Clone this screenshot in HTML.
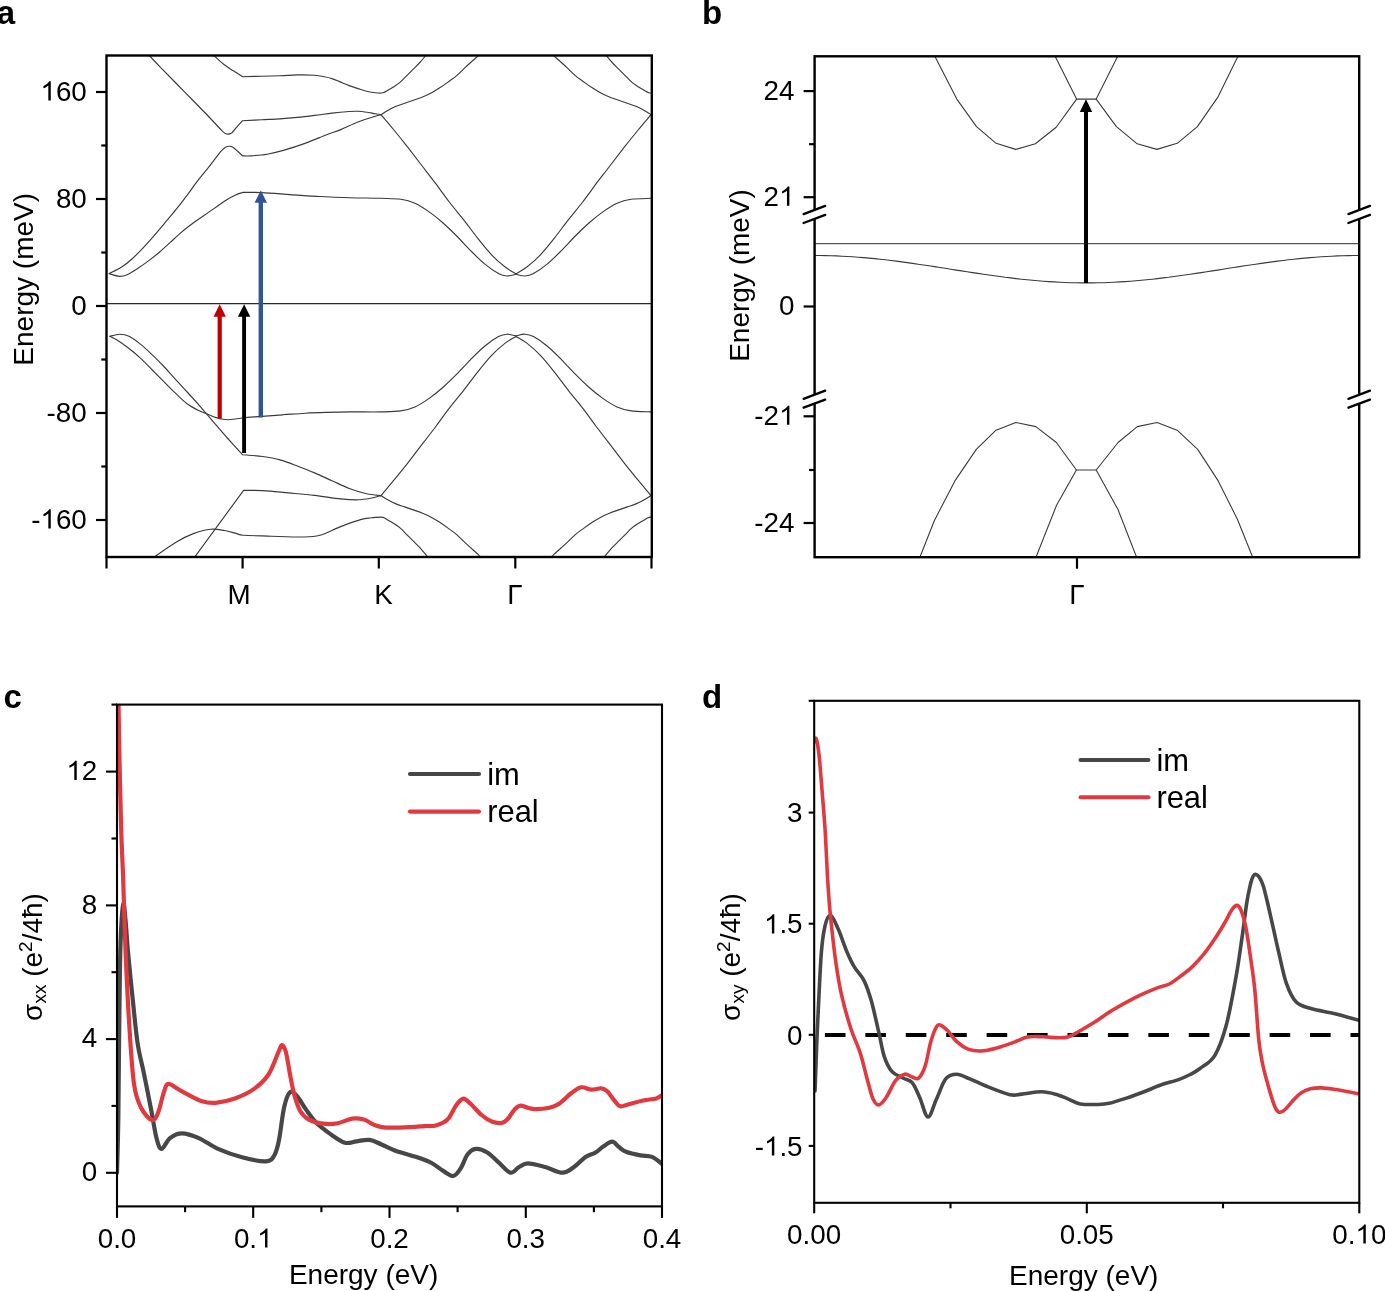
<!DOCTYPE html><html><head><meta charset="utf-8"><title>Figure</title><style>html,body{margin:0;padding:0;background:#fff;overflow:hidden;}svg{display:block;will-change:transform;}text{font-family:"Liberation Sans",sans-serif;fill:#000;}</style></head><body>
<svg width="1385" height="1291" viewBox="0 0 1385 1291">
<rect x="0" y="0" width="1385" height="1291" fill="#fff"/>
<text x="-3.3" y="23.5" font-size="33" text-anchor="start" font-weight="bold">a</text>
<text x="702" y="23.5" font-size="33" text-anchor="start" font-weight="bold">b</text>
<text x="3.5" y="708.3" font-size="33" text-anchor="start" font-weight="bold">c</text>
<text x="702" y="708.2" font-size="33" text-anchor="start" font-weight="bold">d</text>
<g>
<clipPath id="clipA"><rect x="106.5" y="55.5" width="545.3" height="501.5"/></clipPath>
<g clip-path="url(#clipA)">
<path d="M148.8,55 C150.7,57 154,60.6 160,66.8 C166,73 176.7,83.8 185,92.3 C193.3,100.8 203.9,111.6 210,118 C216.1,124.4 219.2,128 221.8,130.6 C224.4,133.2 224.4,132.9 225.5,133.5 C226.6,134.1 227.2,134.2 228.3,134.1 C229.4,134 230.6,133.8 232,132.7 C233.4,131.5 234.9,129.2 236.7,127.2 C238.4,125.2 241.5,121.8 242.5,120.7 C245.7,120.5 255.4,120 261.7,119.7 C267.9,119.4 274.1,119.3 280,118.9 C285.9,118.5 291.5,118 297.3,117.4 C303.1,116.8 308.9,116.1 314.7,115.4 C320.5,114.7 326.2,113.8 332,113.1 C337.8,112.4 345,111.8 349.3,111.5 C353.6,111.2 355.1,111.2 358,111.3 C360.9,111.4 363.8,111.8 366.7,112.2 C369.6,112.6 372.9,113.4 375.3,113.8 C377.7,114.2 380.1,114.5 381,114.7 C383.1,117.2 389.4,124.5 393.9,130 C398.4,135.4 403.2,141.5 407.9,147.4 C412.5,153.3 417.1,159.4 421.8,165.5 C426.5,171.6 431.2,177.5 435.8,183.7 C440.4,189.9 445.1,196.5 449.7,202.5 C454.3,208.5 459,214 463.7,219.9 C468.4,225.8 473,232.3 477.6,238.1 C482.2,243.9 487,249.9 491.6,254.8 C496.2,259.7 501.4,264.1 505.5,267.3 C509.6,270.5 514.2,272.7 516,273.8" fill="none" stroke="#3a3a3a" stroke-width="1.15" stroke-linejoin="round" stroke-linecap="round"/>
<path d="M213.4,55 C215.1,56.5 220.4,61.6 223.7,64.2 C227,66.8 229.8,68.5 233,70.6 C236.2,72.7 241,75.7 242.6,76.7 C245.8,76.6 255.5,76.4 261.7,76.2 C267.9,76 274.1,76 280,75.8 C285.9,75.6 291.5,75 297.3,74.9 C303.1,74.8 310.4,74.9 314.7,75.2 C319,75.5 320.4,75.9 323.3,76.5 C326.2,77.1 329.1,77.7 332,78.6 C334.9,79.5 337.8,80.9 340.7,82.1 C343.6,83.3 346.4,84.5 349.3,85.6 C352.2,86.7 355.1,87.7 358,88.6 C360.9,89.5 363.8,90.5 366.7,91.2 C369.6,91.9 372.6,92.5 375.3,92.8 C378,93.1 380.9,93.3 383.1,92.8 C385.3,92.3 386.4,91 388.3,89.9 C390.2,88.8 392.3,87.7 394.3,86.4 C396.3,85.1 398.1,84 400.3,82.1 C402.5,80.2 405.1,77.3 407.3,75.1 C409.5,72.9 411.3,71.1 413.3,69.1 C415.3,67.1 417.4,65.1 419.4,63 C421.3,60.9 423.1,58.8 425,56.5 C426.9,54.2 430,50.7 431,49.5" fill="none" stroke="#3a3a3a" stroke-width="1.15" stroke-linejoin="round" stroke-linecap="round"/>
<path d="M109.2,273.6 C111.3,272.5 117.8,269.6 121.7,267.1 C125.6,264.6 128.9,261.8 132.5,258.5 C136.1,255.2 139.8,251.4 143.4,247.6 C147,243.8 150.6,239.8 154.2,235.7 C157.8,231.5 161.5,227 165.1,222.7 C168.7,218.4 172.3,214.2 175.9,209.7 C179.5,205.2 183.2,200.4 186.8,195.6 C190.4,190.8 194,185.6 197.6,180.9 C201.2,176.2 205.7,170.9 208.5,167.4 C211.3,163.9 212.6,162 214.4,159.7 C216.2,157.3 218.1,154.9 219.3,153.3 C220.5,151.8 220.8,151.4 221.8,150.4 C222.8,149.4 224.3,148 225.5,147.3 C226.7,146.6 227.9,146.2 229.2,146.2 C230.4,146.2 231.6,146.5 233,147.3 C234.4,148.2 236,149.9 237.6,151.3 C239.2,152.7 241.8,155.1 242.7,155.9 C244,155.9 246.7,156.2 250.8,155.9 C254.9,155.6 261.7,155.1 267.1,154.2 C272.5,153.3 277,152.2 283.3,150.4 C289.6,148.6 297.8,146 305,143.4 C312.2,140.8 320.7,137 326.6,134.7 C332.6,132.4 335.5,131.7 340.7,129.6 C345.9,127.5 352.2,124.2 358,122 C363.8,119.8 371.5,117.5 375.3,116.3 C379.1,115.1 380.1,115 381,114.7 C382.1,114 384.8,112.1 387.3,110.7 C389.8,109.3 393.1,107.5 396,106.3 C398.9,105.1 401.8,104.3 404.7,103.3 C407.6,102.3 410.4,101.3 413.3,100.3 C416.2,99.3 419.1,98.4 422,97.2 C424.9,96 427.8,94.8 430.7,93.3 C433.6,91.8 436.4,90 439.3,88.1 C442.2,86.2 445.1,84.2 448,82.1 C450.9,80 453.8,78.1 456.7,75.6 C459.6,73.1 462.4,70 465.3,67.3 C468.2,64.6 471.8,61.5 474,59.5 C476.2,57.5 476.5,57.3 478.3,55.6 C480.1,53.9 483.9,50.5 485,49.5" fill="none" stroke="#3a3a3a" stroke-width="1.15" stroke-linejoin="round" stroke-linecap="round"/>
<path d="M109.2,273.6 C110.9,274.1 116.5,276.2 119.5,276.4 C122.5,276.6 124,276.1 127.1,274.7 C130.2,273.3 134.4,270.5 138,268.2 C141.6,265.9 145.2,263.3 148.8,260.6 C152.4,257.9 156.1,255.1 159.7,252 C163.3,248.9 166.9,245.5 170.5,242.2 C174.1,238.9 177.7,235.5 181.3,232.4 C184.9,229.3 188.6,226.5 192.2,223.8 C195.8,221.1 199.4,218.7 203,216.2 C206.6,213.7 210.3,211.1 213.9,208.6 C217.5,206.1 221.1,203.3 224.7,201 C228.3,198.7 232.5,196.4 235.6,195 C238.7,193.6 241.9,192.8 243.2,192.3 C246.3,192.4 253.9,192.2 261.7,192.6 C269.5,193 280.3,193.9 290,194.6 C299.7,195.2 310,196 320,196.5 C330,197 339.8,197.4 350,197.7 C360.2,198 372.5,198 381,198.3 C389.5,198.6 395.2,198.5 400.9,199.3 C406.5,200.1 410.2,201.1 414.9,203.2 C419.5,205.2 424.1,208.3 428.8,211.6 C433.5,214.8 438.2,218.6 442.8,222.7 C447.4,226.8 452.1,231.3 456.7,236 C461.3,240.7 466,245.9 470.6,250.6 C475.2,255.2 480,260.1 484.6,263.9 C489.2,267.7 494.8,271.6 498.5,273.6 C502.2,275.6 504,275.9 506.9,276 C509.8,276.1 514.5,274.6 516,274.3" fill="none" stroke="#3a3a3a" stroke-width="1.15" stroke-linejoin="round" stroke-linecap="round"/>
<path d="M109.9,336.3 C111.6,335.9 116.6,334.2 119.8,334.2 C123,334.2 125.5,334.6 129,336.3 C132.5,338 136.8,341.3 140.7,344.4 C144.6,347.5 148.4,351.2 152.3,354.9 C156.2,358.6 160,362.4 163.9,366.5 C167.8,370.6 171.6,375.1 175.5,379.3 C179.4,383.6 183.2,387.8 187.1,392 C191,396.2 195.7,401.3 198.8,404.8 C201.9,408.3 202.8,409.5 205.7,412.9 C208.6,416.3 212.5,420.8 216.2,425.1 C219.9,429.4 223.4,433.6 227.8,438.5 C232.2,443.4 240.1,452 242.5,454.7 C245.8,455 256.4,455.6 262.6,456.5 C268.9,457.4 274.2,458.3 280,459.9 C285.8,461.5 291.5,463.8 297.3,466 C303.1,468.2 308.8,470.4 314.6,472.9 C320.4,475.3 326.1,478.1 331.9,480.7 C337.7,483.3 343.5,486.3 349.3,488.5 C355.1,490.7 361.3,492.5 366.6,493.7 C371.9,494.9 378.6,495.3 381,495.6 C382.1,496.2 384.8,498.1 387.3,499.5 C389.8,500.9 393.1,502.7 396,503.9 C398.9,505.1 401.8,505.9 404.7,506.9 C407.6,507.9 410.4,508.9 413.3,509.9 C416.2,510.9 419.1,511.8 422,513 C424.9,514.2 427.8,515.4 430.7,516.9 C433.6,518.4 436.4,520.2 439.3,522.1 C442.2,524 445.1,526 448,528.1 C450.9,530.2 453.8,532.1 456.7,534.6 C459.6,537.1 462.4,540.2 465.3,542.9 C468.2,545.6 471.8,548.8 474,550.7 C476.2,552.7 476.5,552.9 478.3,554.6 C480.1,556.3 483.9,559.7 485,560.7" fill="none" stroke="#3a3a3a" stroke-width="1.15" stroke-linejoin="round" stroke-linecap="round"/>
<path d="M109.9,336.3 C111.2,337 114.2,338.3 117.4,340.3 C120.6,342.3 125.1,345.5 129,348.5 C132.9,351.5 136.8,354.7 140.7,358.3 C144.6,361.9 148.4,366.1 152.3,370 C156.2,373.9 160,377.7 163.9,381.6 C167.8,385.5 171.6,389.5 175.5,393.2 C179.4,396.9 183.2,400.8 187.1,403.7 C191,406.6 195.7,409 198.8,410.6 C201.9,412.2 202.8,412.3 205.7,413.5 C208.6,414.7 213.3,416.6 216.2,417.6 C219.1,418.6 221.2,419 223.2,419.3 C225.2,419.6 226.3,419.7 228,419.7 C229.7,419.7 231,419.6 233.6,419.3 C236.2,419 239,418.2 243.7,417.7 C248.4,417.2 255.4,416.9 262,416.4 C268.6,415.9 275.8,415.3 283,414.8 C290.2,414.3 298.1,413.6 305.3,413.2 C312.5,412.8 318.6,412.6 326,412.4 C333.4,412.2 340.8,412 350,411.9 C359.2,411.8 372.5,412.1 381,411.9 C389.5,411.7 395.2,411.7 400.9,410.9 C406.5,410.1 410.2,409.1 414.9,407 C419.5,405 424.1,401.9 428.8,398.6 C433.5,395.4 438.2,391.6 442.8,387.5 C447.4,383.4 452.1,378.9 456.7,374.2 C461.3,369.6 466,364.2 470.6,359.6 C475.2,355 480,350.1 484.6,346.3 C489.2,342.5 494.8,338.6 498.5,336.6 C502.2,334.6 504,334.3 506.9,334.2 C509.8,334.1 514.5,335.6 516,335.9" fill="none" stroke="#3a3a3a" stroke-width="1.15" stroke-linejoin="round" stroke-linecap="round"/>
<path d="M193.3,559 L243.6,490.3 C246.8,490.4 255.1,490.2 262.6,490.6 C270.1,491 279.9,492.1 288.6,492.9 C297.3,493.7 305.9,494.4 314.6,495.4 C323.3,496.4 333.4,498.2 340.6,498.9 C347.8,499.6 352.7,499.9 357.9,499.8 C363.1,499.7 367.9,498.7 371.8,498 C375.7,497.3 379.5,496 381,495.6 C383.1,493 389.4,485.7 393.9,480.2 C398.4,474.7 403.2,468.7 407.9,462.8 C412.5,456.9 417.1,450.8 421.8,444.7 C426.5,438.7 431.2,432.7 435.8,426.5 C440.4,420.3 445.1,413.7 449.7,407.7 C454.3,401.7 459,396.2 463.7,390.3 C468.4,384.4 473,377.9 477.6,372.1 C482.2,366.3 487,360.3 491.6,355.4 C496.2,350.5 501.4,346.1 505.5,342.9 C509.6,339.7 514.2,337.5 516,336.4" fill="none" stroke="#3a3a3a" stroke-width="1.15" stroke-linejoin="round" stroke-linecap="round"/>
<path d="M154.3,557 C157.9,554.5 169.5,546.1 176,542.2 C182.5,538.3 187.5,535.8 193.3,533.6 C199.1,531.4 205.4,529.7 210.6,529.2 C215.8,528.7 220.2,529.8 224.5,530.5 C228.8,531.2 233.4,532.8 236.6,533.6 C239.8,534.4 237.8,534.9 243.6,535.3 C249.4,535.7 261.5,535.9 271.3,536.2 C281.1,536.5 294.4,537.1 302.5,537 C310.6,536.9 313.4,537 319.8,535.3 C326.2,533.6 333.7,529.2 340.6,526.6 C347.5,524 356.5,520.8 361.4,519.4 C366.3,518 367.7,518.3 370,518 C372.3,517.7 373.1,517.5 375.3,517.4 C377.5,517.3 380.9,516.9 383.1,517.4 C385.3,517.9 386.4,519.2 388.3,520.3 C390.2,521.4 392.3,522.5 394.3,523.8 C396.3,525.1 398.1,526.2 400.3,528.1 C402.5,530 405.1,532.9 407.3,535.1 C409.5,537.3 411.3,539.1 413.3,541.1 C415.3,543.1 417.4,545.1 419.4,547.2 C421.3,549.3 423.1,551.5 425,553.7 C426.9,556 430,559.5 431,560.7" fill="none" stroke="#3a3a3a" stroke-width="1.15" stroke-linejoin="round" stroke-linecap="round"/>
<path d="M516,273.8 C517.8,272.7 522.4,270.5 526.5,267.3 C530.6,264.1 535.8,259.7 540.4,254.8 C545,249.9 549.8,243.9 554.4,238.1 C559,232.3 563.6,225.8 568.3,219.9 C572.9,214 577.6,208.5 582.3,202.5 C586.9,196.5 591.6,189.9 596.2,183.7 C600.9,177.5 605.6,171.6 610.2,165.5 C614.9,159.4 619.5,153.3 624.1,147.4 C628.8,141.5 633.6,135.5 638.1,130 C642.6,124.5 648.9,117.2 651,114.6" fill="none" stroke="#3a3a3a" stroke-width="1.15" stroke-linejoin="round" stroke-linecap="round"/>
<path d="M516,336.4 C517.8,337.5 522.4,339.7 526.5,342.9 C530.6,346.1 535.8,350.5 540.4,355.4 C545,360.3 549.8,366.3 554.4,372.1 C559,377.9 563.6,384.4 568.3,390.3 C572.9,396.2 577.6,401.7 582.3,407.7 C586.9,413.7 591.6,420.3 596.2,426.5 C600.9,432.7 605.6,438.7 610.2,444.7 C614.9,450.8 619.5,456.9 624.1,462.8 C628.8,468.7 633.6,474.7 638.1,480.2 C642.6,485.7 648.9,493 651,495.6" fill="none" stroke="#3a3a3a" stroke-width="1.15" stroke-linejoin="round" stroke-linecap="round"/>
<path d="M516,274.3 C517.5,274.6 522.2,276.1 525.1,276 C528,275.9 529.8,275.6 533.5,273.6 C537.2,271.6 542.8,267.7 547.4,263.9 C552,260.1 556.8,255.2 561.4,250.6 C566,245.9 570.7,240.7 575.3,236 C579.9,231.3 584.6,226.8 589.2,222.7 C593.9,218.6 598.6,214.8 603.2,211.6 C607.9,208.3 612.5,205.2 617.1,203.2 C621.8,201.1 625.5,200.1 631.1,199.3 C636.8,198.5 647.7,198.5 651,198.3" fill="none" stroke="#3a3a3a" stroke-width="1.15" stroke-linejoin="round" stroke-linecap="round"/>
<path d="M516,335.9 C517.5,335.6 522.2,334.1 525.1,334.2 C528,334.3 529.8,334.6 533.5,336.6 C537.2,338.6 542.8,342.5 547.4,346.3 C552,350.1 556.8,355 561.4,359.6 C566,364.2 570.7,369.6 575.3,374.2 C579.9,378.9 584.6,383.4 589.2,387.5 C593.9,391.6 598.6,395.4 603.2,398.6 C607.9,401.9 612.5,405 617.1,407 C621.8,409.1 625.5,410.1 631.1,410.9 C636.8,411.7 647.7,411.7 651,411.9" fill="none" stroke="#3a3a3a" stroke-width="1.15" stroke-linejoin="round" stroke-linecap="round"/>
<path d="M547,49.5 C548.1,50.5 551.9,53.9 553.7,55.6 C555.5,57.3 555.8,57.5 558,59.5 C560.2,61.5 563.8,64.6 566.7,67.3 C569.6,70 572.4,73.1 575.3,75.6 C578.2,78.1 581.1,80 584,82.1 C586.9,84.2 589.8,86.2 592.7,88.1 C595.6,90 598.4,91.8 601.3,93.3 C604.2,94.8 607.1,96 610,97.2 C612.9,98.4 615.8,99.3 618.7,100.3 C621.6,101.3 624.4,102.3 627.3,103.3 C630.2,104.3 633.1,105.1 636,106.3 C638.9,107.5 642.2,109.3 644.7,110.7 C647.2,112.1 650,113.9 651,114.6" fill="none" stroke="#3a3a3a" stroke-width="1.15" stroke-linejoin="round" stroke-linecap="round"/>
<path d="M547,560.7 C548.1,559.7 551.9,556.3 553.7,554.6 C555.5,552.9 555.8,552.7 558,550.7 C560.2,548.8 563.8,545.6 566.7,542.9 C569.6,540.2 572.4,537.1 575.3,534.6 C578.2,532.1 581.1,530.2 584,528.1 C586.9,526 589.8,524 592.7,522.1 C595.6,520.2 598.4,518.4 601.3,516.9 C604.2,515.4 607.1,514.2 610,513 C612.9,511.8 615.8,510.9 618.7,509.9 C621.6,508.9 624.4,507.9 627.3,506.9 C630.2,505.9 633.1,505.1 636,503.9 C638.9,502.7 642.2,500.9 644.7,499.5 C647.2,498.1 650,496.2 651,495.6" fill="none" stroke="#3a3a3a" stroke-width="1.15" stroke-linejoin="round" stroke-linecap="round"/>
<path d="M601,49.5 C602,50.7 605.1,54.2 607,56.5 C608.9,58.8 610.6,60.9 612.6,63 C614.6,65.1 616.7,67.1 618.7,69.1 C620.7,71.1 622.5,72.9 624.7,75.1 C626.9,77.3 629.5,80.2 631.7,82.1 C633.9,84 635.7,85.1 637.7,86.4 C639.7,87.7 641.8,88.8 643.7,89.9 C645.6,91 646.7,92.3 648.9,92.8 C651.1,93.3 655.4,92.8 656.7,92.8" fill="none" stroke="#3a3a3a" stroke-width="1.15" stroke-linejoin="round" stroke-linecap="round"/>
<path d="M601,560.7 C602,559.5 605.1,556 607,553.7 C608.9,551.5 610.6,549.3 612.6,547.2 C614.6,545.1 616.7,543.1 618.7,541.1 C620.7,539.1 622.5,537.3 624.7,535.1 C626.9,532.9 629.5,530 631.7,528.1 C633.9,526.2 635.7,525.1 637.7,523.8 C639.7,522.5 641.8,521.4 643.7,520.3 C645.6,519.2 646.7,517.9 648.9,517.4 C651.1,516.9 655.4,517.4 656.7,517.4" fill="none" stroke="#3a3a3a" stroke-width="1.15" stroke-linejoin="round" stroke-linecap="round"/>
<path d="M107,303.6 L651,303.6" fill="none" stroke="#2a2a2a" stroke-width="1.3" stroke-linejoin="round" stroke-linecap="round"/>
</g>
<line x1="219.7" y1="418.2" x2="219.7" y2="315.8" stroke="#c00000" stroke-width="4.2"/>
<path d="M219.7,304.2 L213.5,316.8 L225.9,316.8 Z" fill="#c00000"/>
<line x1="244.1" y1="453" x2="244.1" y2="315.8" stroke="#000000" stroke-width="3.9"/>
<path d="M244.1,304.2 L237.9,316.8 L250.3,316.8 Z" fill="#000000"/>
<line x1="260.8" y1="417.6" x2="260.8" y2="201.8" stroke="#2f5597" stroke-width="4.4"/>
<path d="M260.8,190.2 L254.6,202.8 L267,202.8 Z" fill="#2f5597"/>
</g>
<rect x="106.5" y="55.5" width="545.3" height="501.5" fill="none" stroke="#000" stroke-width="2.4"/>
<line x1="96" y1="92" x2="106.5" y2="92" stroke="#000" stroke-width="2.2" stroke-linecap="butt"/>
<path d="M763,0 L583,0 L583,1147 Q518,1085 412,1023 Q306,961 222,930 L222,1104 Q373,1175 486,1276 Q599,1377 646,1466 L763,1466 Z" transform="translate(40.42,100.50) scale(0.01357,-0.01305)" fill="#000"/>
<text x="55.9" y="100.5" font-size="27.8">60</text>
<line x1="96" y1="199" x2="106.5" y2="199" stroke="#000" stroke-width="2.2" stroke-linecap="butt"/>
<text x="55.9" y="207.5" font-size="27.8">80</text>
<line x1="96" y1="306" x2="106.5" y2="306" stroke="#000" stroke-width="2.2" stroke-linecap="butt"/>
<text x="71.3" y="314.5" font-size="27.8">0</text>
<line x1="96" y1="413" x2="106.5" y2="413" stroke="#000" stroke-width="2.2" stroke-linecap="butt"/>
<text x="46.6" y="421.5" font-size="27.8">-80</text>
<line x1="96" y1="520" x2="106.5" y2="520" stroke="#000" stroke-width="2.2" stroke-linecap="butt"/>
<text x="31.2" y="528.5" font-size="27.8">-</text>
<path d="M763,0 L583,0 L583,1147 Q518,1085 412,1023 Q306,961 222,930 L222,1104 Q373,1175 486,1276 Q599,1377 646,1466 L763,1466 Z" transform="translate(40.42,528.50) scale(0.01357,-0.01305)" fill="#000"/>
<text x="55.9" y="528.5" font-size="27.8">60</text>
<line x1="101.3" y1="145.5" x2="106.5" y2="145.5" stroke="#000" stroke-width="2.2" stroke-linecap="butt"/>
<line x1="101.3" y1="252.5" x2="106.5" y2="252.5" stroke="#000" stroke-width="2.2" stroke-linecap="butt"/>
<line x1="101.3" y1="359.5" x2="106.5" y2="359.5" stroke="#000" stroke-width="2.2" stroke-linecap="butt"/>
<line x1="101.3" y1="466.5" x2="106.5" y2="466.5" stroke="#000" stroke-width="2.2" stroke-linecap="butt"/>
<line x1="106.5" y1="557" x2="106.5" y2="568.5" stroke="#000" stroke-width="2.2" stroke-linecap="butt"/>
<line x1="242.6" y1="557" x2="242.6" y2="568.5" stroke="#000" stroke-width="2.2" stroke-linecap="butt"/>
<line x1="378.8" y1="557" x2="378.8" y2="568.5" stroke="#000" stroke-width="2.2" stroke-linecap="butt"/>
<line x1="515.3" y1="557" x2="515.3" y2="568.5" stroke="#000" stroke-width="2.2" stroke-linecap="butt"/>
<line x1="651.5" y1="557" x2="651.5" y2="568.5" stroke="#000" stroke-width="2.2" stroke-linecap="butt"/>
<text x="239" y="604" font-size="27.8" text-anchor="middle" font-weight="normal">M</text>
<text x="383.5" y="604" font-size="27.8" text-anchor="middle" font-weight="normal">K</text>
<text x="515" y="604" font-size="27.8" text-anchor="middle" font-weight="normal">&#915;</text>
<text transform="translate(32.9,279.3) rotate(-90)" font-size="28" text-anchor="middle">Energy (meV)</text>
<g>
<clipPath id="clipB"><rect x="814.6" y="56.3" width="544.6" height="500.90000000000003"/></clipPath>
<g clip-path="url(#clipB)">
<path d="M934.2,55 L956.8,99.1 L976.5,126.6 L996.1,143.3 L1015.7,149.4 L1035.4,143.8 L1056.2,127.3 L1076.6,99.1 L1096.2,99.1 L1116.4,126.6 L1137.2,143.8 L1156.9,149.4 L1177.2,143.3 L1197.4,126.6 L1218.2,96.6 L1238.6,55" fill="none" stroke="#3a3a3a" stroke-width="1.1" stroke-linejoin="round" stroke-linecap="round"/>
<path d="M1054.5,55 L1076.6,99.1" fill="none" stroke="#3a3a3a" stroke-width="1.1" stroke-linejoin="round" stroke-linecap="round"/>
<path d="M1118.3,55 L1096.2,99.1" fill="none" stroke="#3a3a3a" stroke-width="1.1" stroke-linejoin="round" stroke-linecap="round"/>
<path d="M919.2,559 L934.3,520.7 L954.9,480.9 L976.3,449.4 L996,430.2 L1015.8,422.5 L1035.8,426.6 L1056.4,442.5 L1076.4,470 L1096.2,470 L1118.1,442.5 L1137.3,426.6 L1157.1,422.5 L1177.1,430.2 L1197.7,449.4 L1218.2,480.9 L1237.4,519.3 L1253.4,559" fill="none" stroke="#3a3a3a" stroke-width="1.1" stroke-linejoin="round" stroke-linecap="round"/>
<path d="M1076.4,470 L1056.4,505.6 L1035.3,559" fill="none" stroke="#3a3a3a" stroke-width="1.1" stroke-linejoin="round" stroke-linecap="round"/>
<path d="M1096.2,470 L1118.1,509.7 L1137.3,559" fill="none" stroke="#3a3a3a" stroke-width="1.1" stroke-linejoin="round" stroke-linecap="round"/>
<path d="M815,243.6 L1359,243.6" fill="none" stroke="#555" stroke-width="1.1" stroke-linejoin="round" stroke-linecap="round"/>
<path d="M814.6,255.5 L820,255.5 L825.5,255.6 L830.9,255.7 L836.4,255.9 L841.8,256.2 L847.3,256.5 L852.7,256.8 L858.2,257.2 L863.6,257.6 L869.1,258.1 L874.5,258.6 L880,259.2 L885.4,259.8 L890.8,260.5 L896.3,261.1 L901.7,261.9 L907.2,262.6 L912.6,263.4 L918.1,264.2 L923.5,265 L929,265.8 L934.4,266.6 L939.9,267.5 L945.3,268.3 L950.8,269.2 L956.2,270.1 L961.6,270.9 L967.1,271.8 L972.5,272.6 L978,273.4 L983.4,274.2 L988.9,275 L994.3,275.8 L999.8,276.5 L1005.2,277.3 L1010.7,277.9 L1016.1,278.6 L1021.5,279.2 L1027,279.8 L1032.4,280.3 L1037.9,280.8 L1043.3,281.2 L1048.8,281.6 L1054.2,281.9 L1059.7,282.2 L1065.1,282.5 L1070.6,282.7 L1076,282.8 L1081.5,282.9 L1086.9,282.9 L1092.3,282.9 L1097.8,282.8 L1103.2,282.7 L1108.7,282.5 L1114.1,282.2 L1119.6,281.9 L1125,281.6 L1130.5,281.2 L1135.9,280.8 L1141.4,280.3 L1146.8,279.8 L1152.3,279.2 L1157.7,278.6 L1163.1,277.9 L1168.6,277.3 L1174,276.5 L1179.5,275.8 L1184.9,275 L1190.4,274.2 L1195.8,273.4 L1201.3,272.6 L1206.7,271.8 L1212.2,270.9 L1217.6,270.1 L1223,269.2 L1228.5,268.3 L1233.9,267.5 L1239.4,266.6 L1244.8,265.8 L1250.3,265 L1255.7,264.2 L1261.2,263.4 L1266.6,262.6 L1272.1,261.9 L1277.5,261.1 L1283,260.5 L1288.4,259.8 L1293.8,259.2 L1299.3,258.6 L1304.7,258.1 L1310.2,257.6 L1315.6,257.2 L1321.1,256.8 L1326.5,256.5 L1332,256.2 L1337.4,255.9 L1342.9,255.7 L1348.3,255.6 L1353.8,255.5 L1359.2,255.5" fill="none" stroke="#3a3a3a" stroke-width="1.1" stroke-linejoin="round" stroke-linecap="round"/>
</g>
<line x1="1086" y1="283" x2="1086" y2="110.9" stroke="#000" stroke-width="4.0"/>
<path d="M1086,99.3 L1079.8,111.9 L1092.2,111.9 Z" fill="#000"/>
</g>
<rect x="814.6" y="56.3" width="544.6" height="500.90000000000003" fill="none" stroke="#000" stroke-width="2.4"/>
<polygon points="810.4,211.5 818.4,208.5 818.4,217.4 810.4,220.4" fill="#fff"/>
<line x1="803.6" y1="214.1" x2="825.2" y2="205.9" stroke="#000" stroke-width="2.3" stroke-linecap="round"/>
<line x1="803.6" y1="223" x2="825.2" y2="214.9" stroke="#000" stroke-width="2.3" stroke-linecap="round"/>
<polygon points="810.4,396.2 818.4,393.2 818.4,402.1 810.4,405.1" fill="#fff"/>
<line x1="803.6" y1="398.8" x2="825.2" y2="390.6" stroke="#000" stroke-width="2.3" stroke-linecap="round"/>
<line x1="803.6" y1="407.7" x2="825.2" y2="399.6" stroke="#000" stroke-width="2.3" stroke-linecap="round"/>
<polygon points="1355.2,211.5 1363.2,208.5 1363.2,217.4 1355.2,220.4" fill="#fff"/>
<line x1="1348.4" y1="214.1" x2="1370" y2="205.9" stroke="#000" stroke-width="2.3" stroke-linecap="round"/>
<line x1="1348.4" y1="223" x2="1370" y2="214.9" stroke="#000" stroke-width="2.3" stroke-linecap="round"/>
<polygon points="1355.2,396.2 1363.2,393.2 1363.2,402.1 1355.2,405.1" fill="#fff"/>
<line x1="1348.4" y1="398.8" x2="1370" y2="390.6" stroke="#000" stroke-width="2.3" stroke-linecap="round"/>
<line x1="1348.4" y1="407.7" x2="1370" y2="399.6" stroke="#000" stroke-width="2.3" stroke-linecap="round"/>
<line x1="803.6" y1="91.1" x2="814.6" y2="91.1" stroke="#000" stroke-width="2.2" stroke-linecap="butt"/>
<text x="763.6" y="99.6" font-size="27.8">24</text>
<line x1="803.6" y1="197.2" x2="814.6" y2="197.2" stroke="#000" stroke-width="2.2" stroke-linecap="butt"/>
<text x="763.6" y="205.7" font-size="27.8">2</text>
<path d="M763,0 L583,0 L583,1147 Q518,1085 412,1023 Q306,961 222,930 L222,1104 Q373,1175 486,1276 Q599,1377 646,1466 L763,1466 Z" transform="translate(779.04,205.70) scale(0.01357,-0.01305)" fill="#000"/>
<line x1="803.6" y1="306.5" x2="814.6" y2="306.5" stroke="#000" stroke-width="2.2" stroke-linecap="butt"/>
<text x="779" y="315" font-size="27.8">0</text>
<line x1="803.6" y1="416.3" x2="814.6" y2="416.3" stroke="#000" stroke-width="2.2" stroke-linecap="butt"/>
<text x="754.3" y="424.8" font-size="27.8">-2</text>
<path d="M763,0 L583,0 L583,1147 Q518,1085 412,1023 Q306,961 222,930 L222,1104 Q373,1175 486,1276 Q599,1377 646,1466 L763,1466 Z" transform="translate(779.04,424.80) scale(0.01357,-0.01305)" fill="#000"/>
<line x1="803.6" y1="523" x2="814.6" y2="523" stroke="#000" stroke-width="2.2" stroke-linecap="butt"/>
<text x="754.3" y="531.5" font-size="27.8">-24</text>
<line x1="809.1" y1="144.2" x2="814.6" y2="144.2" stroke="#000" stroke-width="2.2" stroke-linecap="butt"/>
<line x1="809.1" y1="470" x2="814.6" y2="470" stroke="#000" stroke-width="2.2" stroke-linecap="butt"/>
<line x1="1077" y1="557.2" x2="1077" y2="568.7" stroke="#000" stroke-width="2.2" stroke-linecap="butt"/>
<text x="1077" y="604" font-size="27.8" text-anchor="middle" font-weight="normal">&#915;</text>
<text transform="translate(749,275.5) rotate(-90)" font-size="28" text-anchor="middle">Energy (meV)</text>
<clipPath id="clipC"><rect x="117.0" y="704.6" width="545.0" height="501.80000000000007"/></clipPath>
<g clip-path="url(#clipC)">
<path d="M117,1172.8 C117.2,1164 117.9,1143.8 118.3,1120 C118.7,1096.2 118.8,1059.2 119.2,1030 C119.6,1000.8 119.8,965.9 120.5,945 C121.2,924.1 122.4,908.7 123.2,904.5 C124,900.3 124.7,912.1 125.5,920 C126.3,927.9 126.8,938.7 128,952 C129.2,965.3 131.2,984.8 132.8,1000 C134.4,1015.2 135.8,1031.3 137.6,1043.3 C139.4,1055.3 141.4,1061.2 143.6,1072 C145.8,1082.8 148.7,1097 150.8,1108 C153,1119 154.7,1131.2 156.5,1138 C158.3,1144.8 159.3,1148.9 161.6,1148.9 C163.8,1148.9 166.6,1140.7 170,1138.1 C173.4,1135.5 177.2,1133.3 182,1133.3 C186.8,1133.3 192.8,1135.5 198.8,1138.1 C204.8,1140.7 210.8,1145.7 218,1148.9 C225.2,1152.1 234,1155.2 242,1157.3 C250,1159.4 260.7,1161.8 266.1,1161.4 C271.5,1161 272.4,1158.6 274.5,1155 C276.6,1151.4 277.4,1148.1 279,1140 C280.6,1131.9 282.4,1114.6 284.3,1106.6 C286.2,1098.6 287.9,1093.9 290.1,1092.2 C292.3,1090.5 294.7,1093.6 297.3,1096.5 C299.9,1099.4 302.9,1105.2 306,1109.5 C309.1,1113.8 312,1118.4 316.1,1122.5 C320.2,1126.6 325.7,1130.7 330.5,1134.1 C335.3,1137.5 340.7,1141.5 345,1142.7 C349.3,1143.9 352.4,1141.8 356.5,1141.3 C360.6,1140.8 365.4,1139.4 369.5,1139.9 C373.6,1140.4 376.8,1142.4 381.1,1144.2 C385.4,1146 389.5,1148.5 395.5,1150.7 C401.5,1152.9 411.2,1155.2 417.2,1157.2 C423.2,1159.2 427.3,1160.7 431.6,1163 C435.9,1165.3 439.6,1168.7 443.2,1170.9 C446.8,1173.1 450.4,1176.4 453.3,1176 C456.2,1175.6 458.1,1172.3 460.5,1168.7 C462.9,1165.1 465.1,1157.6 467.7,1154.3 C470.2,1151 472.5,1149.2 475.8,1148.9 C479.1,1148.6 483.5,1150.2 487.3,1152.5 C491.1,1154.8 495,1159.2 498.9,1162.6 C502.8,1166 507,1172 510.4,1172.7 C513.8,1173.4 516.2,1168.5 519.1,1167 C522,1165.5 523.5,1163.4 527.8,1163.4 C532.1,1163.4 539.3,1165.5 545.1,1167 C550.9,1168.5 557.6,1172.7 562.4,1172.7 C567.2,1172.7 570.1,1169.6 574,1167 C577.9,1164.4 581.9,1159.3 585.5,1156.9 C589.1,1154.5 592.7,1154.2 595.6,1152.5 C598.5,1150.8 600.1,1148.6 602.9,1146.8 C605.7,1145 609.6,1141.7 612.2,1141.7 C614.8,1141.7 616.4,1145.1 618.7,1146.8 C621,1148.5 622.4,1150.4 626,1151.8 C629.6,1153.2 636.1,1154.6 640.4,1155.4 C644.7,1156.2 648.4,1155.5 652,1156.9 C655.6,1158.3 660.3,1162.8 662,1164" fill="none" stroke="#474747" stroke-width="4.2" stroke-linejoin="round" stroke-linecap="round"/>
<path d="M118.3,690 C118.5,701.7 119,736.7 119.5,760 C120,783.3 120.6,810 121.2,830 C121.8,850 122.5,859.7 123.2,880 C123.9,900.3 124.6,928 125.6,952 C126.6,976 127.8,1002 129.2,1024 C130.6,1046 132,1070 134,1084 C136,1098 138.2,1102 141.2,1108 C144.2,1114 149.2,1119.3 152,1120.1 C154.8,1120.9 156.2,1117.1 158,1112.9 C159.8,1108.7 161.6,1099.6 163,1095 C164.4,1090.4 165.2,1087.1 166.4,1085.3 C167.6,1083.5 167.4,1083.1 170,1084.1 C172.6,1085.1 176.8,1088.5 182,1091.3 C187.2,1094.1 195.6,1099 201.2,1100.9 C206.8,1102.8 210,1103.2 215.6,1102.8 C221.2,1102.4 228.5,1100.8 234.9,1098.5 C241.3,1096.2 248.5,1092.9 254.1,1088.9 C259.7,1084.9 264.5,1080.5 268.5,1074.5 C272.5,1068.5 275.9,1057.8 278.1,1052.9 C280.3,1048 280.6,1045.2 281.9,1045 C283.2,1044.8 284.4,1046.8 285.8,1051.8 C287.2,1056.8 288.7,1067.7 290.1,1074.9 C291.5,1082.1 292.7,1089.1 294.4,1095.1 C296.1,1101.1 297.8,1106.9 300.2,1111 C302.6,1115.1 305,1117.5 308.9,1119.6 C312.8,1121.7 318.5,1123.1 323.3,1123.7 C328.1,1124.3 333,1124.1 337.8,1123.2 C342.6,1122.3 347.9,1119.2 352.2,1118.6 C356.5,1118 360.2,1118.6 363.8,1119.6 C367.4,1120.6 370.3,1123.4 373.9,1124.7 C377.5,1126 379.4,1127.2 385.4,1127.6 C391.4,1128 403.5,1127.3 410,1127.1 C416.5,1126.8 420.1,1126.4 424.4,1126.1 C428.7,1125.8 432.1,1126.5 436,1125.4 C439.9,1124.3 444.1,1123 447.5,1119.6 C450.9,1116.2 453.6,1108.7 456.2,1105.2 C458.8,1101.7 461,1098.9 463.4,1098.7 C465.8,1098.5 467.6,1101.1 470.6,1103.8 C473.6,1106.5 478.1,1112 481.6,1115 C485.1,1118 488.3,1120.2 491.7,1121.5 C495.1,1122.8 499.2,1123.3 501.8,1122.9 C504.4,1122.5 505.3,1121.6 507.5,1119.3 C509.7,1117 512.6,1111.5 514.8,1109.2 C517,1106.9 518.3,1105.8 520.5,1105.6 C522.7,1105.4 525.4,1107.2 527.8,1107.8 C530.2,1108.4 531.4,1109.2 535,1109.2 C538.6,1109.2 545.3,1108.8 549.4,1107.8 C553.5,1106.8 555.9,1105.8 559.5,1103.4 C563.1,1101 567.5,1096 571.1,1093.3 C574.7,1090.6 577.8,1087.9 581.2,1087.3 C584.6,1086.7 587.9,1089.5 591.3,1089.7 C594.7,1089.9 598.8,1088 601.4,1088.3 C604,1088.5 605,1089.2 607.2,1091.2 C609.4,1093.2 612.2,1098 614.4,1100.5 C616.6,1103 617.8,1105.7 620.2,1106.3 C622.6,1106.9 624.9,1105.2 628.8,1104.2 C632.6,1103.2 638.7,1101.5 643.3,1100.5 C647.9,1099.5 653,1099.4 656.3,1098.4 C659.6,1097.4 661.9,1095.2 663,1094.5" fill="none" stroke="#e03a40" stroke-width="4.2" stroke-linejoin="round" stroke-linecap="round"/>
</g>
<rect x="117.0" y="704.6" width="545.0" height="501.80000000000007" fill="none" stroke="#000" stroke-width="2.1"/>
<line x1="106" y1="1172.8" x2="117" y2="1172.8" stroke="#000" stroke-width="2.1" stroke-linecap="butt"/>
<text x="81.8" y="1181.1" font-size="27.8">0</text>
<line x1="106" y1="1039.1" x2="117" y2="1039.1" stroke="#000" stroke-width="2.1" stroke-linecap="butt"/>
<text x="81.8" y="1047.4" font-size="27.8">4</text>
<line x1="106" y1="905.4" x2="117" y2="905.4" stroke="#000" stroke-width="2.1" stroke-linecap="butt"/>
<text x="81.8" y="913.7" font-size="27.8">8</text>
<line x1="106" y1="771.6" x2="117" y2="771.6" stroke="#000" stroke-width="2.1" stroke-linecap="butt"/>
<path d="M763,0 L583,0 L583,1147 Q518,1085 412,1023 Q306,961 222,930 L222,1104 Q373,1175 486,1276 Q599,1377 646,1466 L763,1466 Z" transform="translate(66.38,779.94) scale(0.01357,-0.01305)" fill="#000"/>
<text x="81.8" y="779.9" font-size="27.8">2</text>
<line x1="111.5" y1="704.6" x2="117" y2="704.6" stroke="#000" stroke-width="2.1" stroke-linecap="butt"/>
<line x1="111.5" y1="1105.9" x2="117" y2="1105.9" stroke="#000" stroke-width="2.1" stroke-linecap="butt"/>
<line x1="111.5" y1="972.2" x2="117" y2="972.2" stroke="#000" stroke-width="2.1" stroke-linecap="butt"/>
<line x1="111.5" y1="838.5" x2="117" y2="838.5" stroke="#000" stroke-width="2.1" stroke-linecap="butt"/>
<line x1="117" y1="1206.4" x2="117" y2="1217.9" stroke="#000" stroke-width="2.1" stroke-linecap="butt"/>
<text x="97.7" y="1247.6" font-size="27.8">0.0</text>
<line x1="253.2" y1="1206.4" x2="253.2" y2="1217.9" stroke="#000" stroke-width="2.1" stroke-linecap="butt"/>
<text x="233.9" y="1247.6" font-size="27.8">0.</text>
<path d="M763,0 L583,0 L583,1147 Q518,1085 412,1023 Q306,961 222,930 L222,1104 Q373,1175 486,1276 Q599,1377 646,1466 L763,1466 Z" transform="translate(257.11,1247.60) scale(0.01357,-0.01305)" fill="#000"/>
<line x1="389.5" y1="1206.4" x2="389.5" y2="1217.9" stroke="#000" stroke-width="2.1" stroke-linecap="butt"/>
<text x="370.2" y="1247.6" font-size="27.8">0.2</text>
<line x1="525.8" y1="1206.4" x2="525.8" y2="1217.9" stroke="#000" stroke-width="2.1" stroke-linecap="butt"/>
<text x="506.4" y="1247.6" font-size="27.8">0.3</text>
<line x1="662" y1="1206.4" x2="662" y2="1217.9" stroke="#000" stroke-width="2.1" stroke-linecap="butt"/>
<text x="642.7" y="1247.6" font-size="27.8">0.4</text>
<line x1="185.1" y1="1206.4" x2="185.1" y2="1212.2" stroke="#000" stroke-width="2.1" stroke-linecap="butt"/>
<line x1="321.4" y1="1206.4" x2="321.4" y2="1212.2" stroke="#000" stroke-width="2.1" stroke-linecap="butt"/>
<line x1="457.6" y1="1206.4" x2="457.6" y2="1212.2" stroke="#000" stroke-width="2.1" stroke-linecap="butt"/>
<line x1="593.9" y1="1206.4" x2="593.9" y2="1212.2" stroke="#000" stroke-width="2.1" stroke-linecap="butt"/>
<text x="363.6" y="1284.4" font-size="28" text-anchor="middle" font-weight="normal">Energy (eV)</text>
<text transform="translate(42.2,957) rotate(-90)" font-size="28" text-anchor="middle">&#963;<tspan font-size="19" dy="4">xx</tspan><tspan dy="-4"> (e</tspan><tspan font-size="19" dy="-10">2</tspan><tspan dy="10">/4&#295;)</tspan></text>
<line x1="410" y1="774" x2="479" y2="774" stroke="#474747" stroke-width="4.2" stroke-linecap="round"/>
<line x1="410" y1="811.6" x2="479" y2="811.6" stroke="#e03a40" stroke-width="4.2" stroke-linecap="round"/>
<text x="487.2" y="784.7" font-size="30.9" text-anchor="start" font-weight="normal">im</text>
<text x="487.2" y="822.2" font-size="30.9" text-anchor="start" font-weight="normal">real</text>
<clipPath id="clipD"><rect x="814.2" y="700.8" width="545.0999999999999" height="502.0"/></clipPath>
<g clip-path="url(#clipD)">
<line x1="824.9" y1="1035" x2="1359" y2="1035" stroke="#000" stroke-width="4.2" stroke-dasharray="20.6 19.83"/>
<path d="M815,1091 C815.1,1087.5 815.4,1080.4 815.8,1070 C816.2,1059.6 816.5,1048 817.4,1028.7 C818.3,1009.4 820,971.3 821.2,954.3 C822.5,937.3 823.4,933 824.9,926.5 C826.4,920 828.2,915 830.4,915.3 C832.6,915.6 835.1,922.1 837.9,928.3 C840.7,934.5 844.4,946 847.2,952.5 C850,959 851.8,962.8 854.6,967.4 C857.4,972 861.1,974.8 863.9,980.4 C866.7,986 868.8,992.1 871.3,1000.8 C873.8,1009.5 876.6,1023.1 878.8,1032.4 C881,1041.7 882.1,1050.1 884.3,1056.6 C886.5,1063.1 888.7,1067.8 891.8,1071.4 C894.9,1075 899.5,1076.1 902.9,1078 C906.3,1079.9 909.4,1079.3 912.2,1082.6 C915,1085.8 917.1,1091.8 919.7,1097.5 C922.3,1103.2 925.2,1116.7 928,1117 C930.8,1117.3 933.4,1105.6 936.4,1099.3 C939.4,1093 942.3,1083.1 945.7,1078.9 C949.1,1074.7 952.8,1074.2 956.8,1074.2 C960.8,1074.2 964.9,1076.9 969.9,1078.9 C974.9,1080.9 979.9,1083.7 986.6,1086.3 C993.3,1088.9 1004.1,1093.4 1010,1094.7 C1015.9,1096 1016.4,1094.6 1021.7,1094.1 C1027,1093.6 1036,1091.7 1041.9,1091.8 C1047.8,1091.9 1052.8,1093.5 1057.3,1094.7 C1061.8,1096 1065.1,1097.8 1068.9,1099.3 C1072.8,1100.8 1075.6,1103 1080.4,1103.9 C1085.2,1104.8 1093,1104.6 1097.8,1104.5 C1102.6,1104.4 1104.5,1104.4 1109.3,1103.3 C1114.1,1102.2 1120.8,1100 1126.6,1098.1 C1132.4,1096.2 1138.2,1094 1144,1091.8 C1149.8,1089.6 1155.5,1086.8 1161.3,1084.8 C1167.1,1082.8 1173.8,1081.3 1178.6,1079.6 C1183.4,1077.9 1186.6,1076.3 1190.2,1074.5 C1193.8,1072.7 1195.9,1071.7 1200,1068.5 C1204.1,1065.3 1210.5,1062.7 1214.9,1055.3 C1219.3,1047.9 1223,1037.5 1226.5,1024.3 C1230,1011.1 1233.6,990.3 1236.2,975.9 C1238.8,961.5 1240.2,949.9 1242,937.8 C1243.8,925.7 1245.3,912.1 1246.7,903.1 C1248.1,894.1 1249.5,888.4 1250.5,884 C1251.5,879.6 1252.2,878.1 1253,876.5 C1253.8,874.9 1254.4,874 1255.5,874.2 C1256.6,874.4 1258.2,875.5 1259.5,877.5 C1260.8,879.5 1262,882.2 1263.3,886 C1264.5,889.8 1265.7,895.2 1267,900.5 C1268.3,905.8 1269,909.1 1271,917.8 C1273,926.5 1276.2,941.7 1278.8,952.7 C1281.4,963.7 1283.6,975.4 1286.5,983.6 C1289.4,991.8 1292,997.8 1296.2,1002 C1300.4,1006.2 1305.2,1006.8 1311.7,1008.8 C1318.2,1010.8 1327,1011.7 1335,1013.7 C1343,1015.7 1355.8,1019.5 1360,1020.6" fill="none" stroke="#474747" stroke-width="3.6" stroke-linejoin="round" stroke-linecap="round"/>
<path d="M814.5,741.5 C814.8,741 815.5,736.5 816.3,738.8 C817.1,741.1 818.2,747.4 819.1,755.5 C820,763.6 820.8,775.2 821.8,787.6 C822.8,800 824.1,814.6 825.1,830 C826.1,845.4 826.8,865.8 827.7,880 C828.6,894.2 829,901.4 830.4,915.3 C831.8,929.2 834.1,950.3 836,963.6 C837.9,976.9 839.1,984.4 841.6,995.2 C844.1,1006.1 847.8,1019.1 850.9,1028.7 C854,1038.3 857.4,1044.2 860.2,1052.9 C863,1061.6 865.4,1073 867.6,1080.7 C869.8,1088.4 871.3,1095.3 873.2,1099.3 C875.1,1103.3 876.6,1105.2 878.8,1104.9 C881,1104.6 883.4,1101.5 886.2,1097.5 C889,1093.5 892.4,1084.6 895.5,1080.7 C898.6,1076.8 902,1074.8 904.8,1074.2 C907.6,1073.6 909.9,1076.4 912.2,1077 C914.5,1077.6 916.5,1079.8 918.7,1078 C920.9,1076.2 923.2,1072 925.2,1065.9 C927.2,1059.9 928.9,1048.2 930.8,1041.7 C932.7,1035.2 934.8,1029.6 936.4,1026.8 C938,1024 938.2,1024.4 940.1,1025 C942,1025.6 944.7,1027.8 947.5,1030.6 C950.3,1033.4 953.4,1038.6 956.8,1041.7 C960.2,1044.8 964,1047.5 968,1049.1 C972,1050.6 976.4,1051.2 981,1051 C985.6,1050.8 990.3,1049.7 995.9,1048.2 C1001.5,1046.7 1009.1,1044 1014.4,1042.1 C1019.6,1040.2 1022.6,1037.9 1027.4,1037 C1032.2,1036.1 1038.2,1036.7 1043.3,1036.8 C1048.4,1036.9 1053.7,1037.8 1057.8,1037.8 C1061.9,1037.8 1064.5,1038 1067.9,1037 C1071.3,1036 1073.7,1034.4 1078,1032 C1082.3,1029.6 1088.1,1026.3 1093.9,1022.6 C1099.7,1018.9 1105.9,1014.1 1112.7,1010 C1119.5,1005.9 1127.6,1001.4 1134.7,997.8 C1141.8,994.2 1149.7,990.9 1155.5,988.6 C1161.3,986.3 1165.1,986.1 1169.3,984 C1173.5,981.9 1177.1,978.8 1180.9,975.9 C1184.8,973 1188.6,970.3 1192.4,966.6 C1196.2,962.9 1200.2,958.7 1204,953.9 C1207.8,949.1 1212,943 1215.5,937.8 C1219,932.6 1222.1,927.3 1224.8,922.7 C1227.5,918.1 1229.7,912.9 1231.7,910 C1233.7,907.1 1235.4,905.4 1236.9,905.4 C1238.4,905.4 1239.5,906.5 1240.9,910 C1242.4,913.5 1244,918.7 1245.6,926.2 C1247.1,933.7 1248.7,944.5 1250.2,955.1 C1251.7,965.7 1253.4,975.6 1254.8,989.7 C1256.2,1003.9 1257.5,1027.7 1258.8,1040 C1260.1,1052.3 1261.1,1056.5 1262.5,1063.5 C1263.9,1070.5 1265.6,1076.4 1267.2,1082.2 C1268.8,1088 1270.5,1093.8 1271.9,1098.2 C1273.3,1102.6 1274.5,1106.2 1275.7,1108.5 C1277,1110.8 1277.8,1112.1 1279.4,1112.3 C1281,1112.5 1282.9,1111.4 1285.1,1109.5 C1287.3,1107.6 1289.9,1103.8 1292.6,1101 C1295.2,1098.2 1298,1095 1301,1093 C1304,1091 1307,1089.6 1310.4,1088.8 C1313.9,1088 1317.8,1087.8 1321.7,1087.9 C1325.6,1088 1327.5,1088.3 1333.9,1089.3 C1340.3,1090.3 1355.7,1093.2 1360,1094" fill="none" stroke="#e03a40" stroke-width="3.6" stroke-linejoin="round" stroke-linecap="round"/>
</g>
<rect x="814.2" y="700.8" width="545.0999999999999" height="502.0" fill="none" stroke="#000" stroke-width="2.1"/>
<line x1="808.7" y1="812.6" x2="814.2" y2="812.6" stroke="#000" stroke-width="2.1" stroke-linecap="butt"/>
<text x="787.1" y="822.3" font-size="27.8">3</text>
<line x1="808.7" y1="923.7" x2="814.2" y2="923.7" stroke="#000" stroke-width="2.1" stroke-linecap="butt"/>
<path d="M763,0 L583,0 L583,1147 Q518,1085 412,1023 Q306,961 222,930 L222,1104 Q373,1175 486,1276 Q599,1377 646,1466 L763,1466 Z" transform="translate(763.95,933.39) scale(0.01357,-0.01305)" fill="#000"/>
<text x="779.4" y="933.4" font-size="27.8">.5</text>
<line x1="808.7" y1="1034.8" x2="814.2" y2="1034.8" stroke="#000" stroke-width="2.1" stroke-linecap="butt"/>
<text x="787.1" y="1044.5" font-size="27.8">0</text>
<line x1="808.7" y1="1145.9" x2="814.2" y2="1145.9" stroke="#000" stroke-width="2.1" stroke-linecap="butt"/>
<text x="754.7" y="1155.6" font-size="27.8">-</text>
<path d="M763,0 L583,0 L583,1147 Q518,1085 412,1023 Q306,961 222,930 L222,1104 Q373,1175 486,1276 Q599,1377 646,1466 L763,1466 Z" transform="translate(763.95,1155.61) scale(0.01357,-0.01305)" fill="#000"/>
<text x="779.4" y="1155.6" font-size="27.8">.5</text>
<line x1="808.7" y1="700.8" x2="814.2" y2="700.8" stroke="#000" stroke-width="2.1" stroke-linecap="butt"/>
<line x1="814.2" y1="1202.8" x2="814.2" y2="1213.3" stroke="#000" stroke-width="2.1" stroke-linecap="butt"/>
<text x="787.1" y="1243.6" font-size="27.8">0.00</text>
<line x1="1086.8" y1="1202.8" x2="1086.8" y2="1213.3" stroke="#000" stroke-width="2.1" stroke-linecap="butt"/>
<text x="1059.7" y="1243.6" font-size="27.8">0.05</text>
<line x1="1359.3" y1="1202.8" x2="1359.3" y2="1213.3" stroke="#000" stroke-width="2.1" stroke-linecap="butt"/>
<text x="1332.2" y="1243.6" font-size="27.8">0.</text>
<path d="M763,0 L583,0 L583,1147 Q518,1085 412,1023 Q306,961 222,930 L222,1104 Q373,1175 486,1276 Q599,1377 646,1466 L763,1466 Z" transform="translate(1355.43,1243.60) scale(0.01357,-0.01305)" fill="#000"/>
<text x="1370.9" y="1243.6" font-size="27.8">0</text>
<line x1="950.5" y1="1202.8" x2="950.5" y2="1208.3" stroke="#000" stroke-width="2.1" stroke-linecap="butt"/>
<line x1="1223" y1="1202.8" x2="1223" y2="1208.3" stroke="#000" stroke-width="2.1" stroke-linecap="butt"/>
<text x="1083.7" y="1285.4" font-size="28" text-anchor="middle" font-weight="normal">Energy (eV)</text>
<text transform="translate(739.9,957) rotate(-90)" font-size="28" text-anchor="middle">&#963;<tspan font-size="19" dy="4">xy</tspan><tspan dy="-4"> (e</tspan><tspan font-size="19" dy="-10">2</tspan><tspan dy="10">/4&#295;)</tspan></text>
<line x1="1080.5" y1="760" x2="1148.5" y2="760" stroke="#474747" stroke-width="4.0" stroke-linecap="round"/>
<line x1="1080.5" y1="797.2" x2="1148.5" y2="797.2" stroke="#e03a40" stroke-width="4.0" stroke-linecap="round"/>
<text x="1156.4" y="770.6" font-size="30.9" text-anchor="start" font-weight="normal">im</text>
<text x="1156.4" y="807.8" font-size="30.9" text-anchor="start" font-weight="normal">real</text>
</svg></body></html>
